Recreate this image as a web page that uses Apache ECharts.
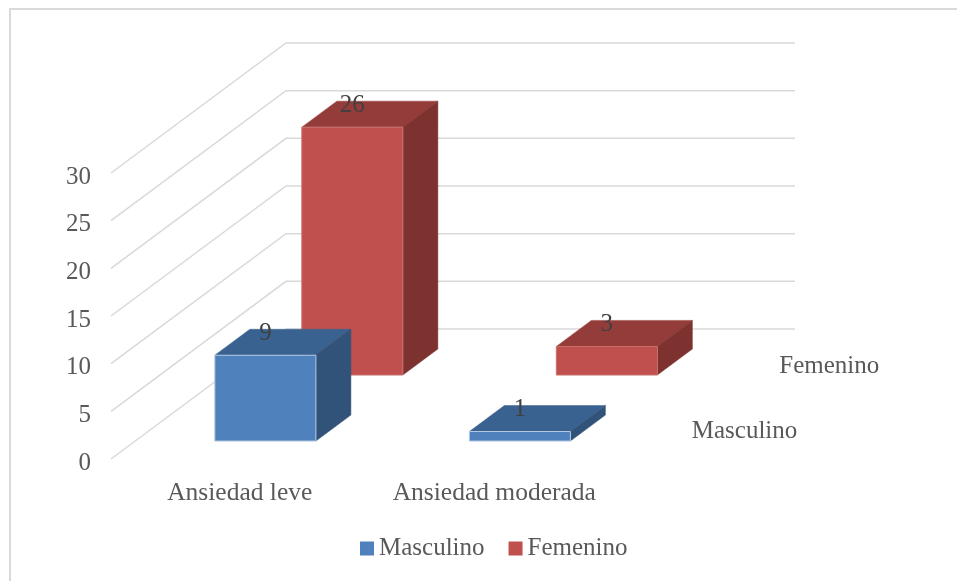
<!DOCTYPE html>
<html><head><meta charset="utf-8">
<style>html,body{margin:0;padding:0;background:#fff}#c{width:957px;height:581px}</style>
<script src="https://cdn.jsdelivr.net/npm/echarts@6/dist/echarts.min.js"></script>
</head><body><div id="c"></div>
<script>
var categories = ['Ansiedad leve', 'Ansiedad moderada'];
var seriesNames = ['Masculino', 'Femenino'];
var masculino = [9, 1];
var femenino = [26, 3];
var yTicks = [0, 5, 10, 15, 20, 25, 30];
var FONT = '"Liberation Serif", serif';
var FONT_SIZE = 25;
var TEXT = '#595959';
var DX = 175, DY = -130;      // full floor depth, in pixels
var BAR_BAND = 0.397;         // bar width / category band
var BAR_DEPTH = 0.2;          // bar depth / floor depth
var ROW_X = [0.155, 0.652];   // start of each row along the floor depth, horizontally
var ROW_Y = [0.138, 0.646];   // the same, vertically

function box(row, c) {
  return function (params, api) {
    var i = api.value(0), v = api.value(1);
    var band = api.size([1, 0])[0];
    var w = band * BAR_BAND;
    var f0 = api.coord([i, 0]), f1 = api.coord([i, v]);
    var ox = DX * ROW_X[row], oy = DY * ROW_Y[row];
    var dx = DX * BAR_DEPTH, dy = DY * BAR_DEPTH;
    var l = f0[0] - w / 2 + ox, r = l + w, b = f0[1] + oy, t = f1[1] + oy;
    var poly = function (pts, color) {
      return { type: 'polygon', shape: { points: pts }, style: { fill: color, stroke: color, lineWidth: 0.5 } };
    };
    return {
      type: 'group',
      children: [
        poly([[l, t], [r, t], [r + dx, t + dy], [l + dx, t + dy]], c.top),
        poly([[r, t], [r + dx, t + dy], [r + dx, b + dy], [r, b]], c.side),
        { type: 'rect', shape: { x: l, y: t, width: w, height: b - t }, style: { fill: c.front, stroke: c.edge, lineWidth: 1 } },
        { type: 'text', x: l + w / 2, y: t + dy + 4,
          style: { text: String(v), fill: '#404040', font: FONT_SIZE + 'px ' + FONT, align: 'center', verticalAlign: 'middle' } }
      ]
    };
  };
}

function wall(params, api) {
  var v = api.value(1);
  var band = api.size([1, 0])[0];
  var p = api.coord([0, v]);
  var q = api.coord([categories.length - 1, v]);
  var a = [p[0] - band / 2, p[1]];
  var e = [q[0] + band / 2, q[1]];
  return {
    type: 'polyline',
    shape: { points: [a, [a[0] + DX, a[1] + DY], [e[0] + DX, e[1] + DY]] },
    style: { stroke: '#D9D9D9', lineWidth: 1.5, fill: null }
  };
}

function depthLabel(params, api) {
  var row = params.dataIndex;
  var band = api.size([1, 0])[0];
  var q = api.coord([categories.length - 1, 0]);
  var off = (row + 0.5) / 2;
  return { type: 'text', x: q[0] + band / 2 + DX * off + 28, y: q[1] + DY * off + 5,
    style: { text: seriesNames[row], fill: TEXT, font: FONT_SIZE + 'px ' + FONT, align: 'left', verticalAlign: 'middle' } };
}

var chart = echarts.init(document.getElementById('c'));
chart.setOption({
  animation: false,
  backgroundColor: '#fff',
  graphic: [{ type: 'polyline', silent: true, z: -1,
    shape: { points: [[10, 581], [10, 9], [957, 9]] },
    style: { stroke: '#D9D9D9', lineWidth: 2, fill: null } }],
  grid: { left: 111, width: 509, top: 173, height: 286, containLabel: false },
  legend: {
    top: 531, left: 355, itemWidth: 14, itemHeight: 14, itemGap: 24, icon: 'rect',
    data: seriesNames,
    textStyle: { color: TEXT, fontFamily: FONT, fontSize: FONT_SIZE }
  },
  xAxis: { type: 'category', data: categories, axisLine: { show: false }, axisTick: { show: false },
    axisLabel: { color: TEXT, fontFamily: FONT, fontSize: 25.5, margin: 21, interval: 0, padding: [0, 0, 0, 3] } },
  yAxis: { type: 'value', min: 0, max: 30, interval: 5, axisLine: { show: false }, axisTick: { show: false },
    splitLine: { show: false },
    axisLabel: { color: TEXT, fontFamily: FONT, fontSize: FONT_SIZE, margin: 20, verticalAlign: 'top', lineHeight: 8 } },
  series: [
    { type: 'custom', name: 'walls', silent: true, z: 1, renderItem: wall, data: yTicks.map(function (v) { return [0, v]; }), encode: { x: 0, y: 1 } },
    { type: 'custom', name: 'Femenino', z: 2, itemStyle: { color: '#C0504D' }, renderItem: box(1, { front: '#C0504D', side: '#7D3230', top: '#943C3A', edge: '#C9706D' }),
      data: femenino.map(function (v, i) { return [i, v]; }), encode: { x: 0, y: 1 } },
    { type: 'custom', name: 'Masculino', z: 3, itemStyle: { color: '#4F81BD' }, renderItem: box(0, { front: '#4F81BD', side: '#325379', top: '#3A6291', edge: '#B5C9E2' }),
      data: masculino.map(function (v, i) { return [i, v]; }), encode: { x: 0, y: 1 } },
    { type: 'custom', name: 'depth', silent: true, z: 4, renderItem: depthLabel,
      data: seriesNames.map(function (n, i) { return [i, 0]; }), encode: { x: 0, y: 1 } }
  ]
});
</script></body></html>
